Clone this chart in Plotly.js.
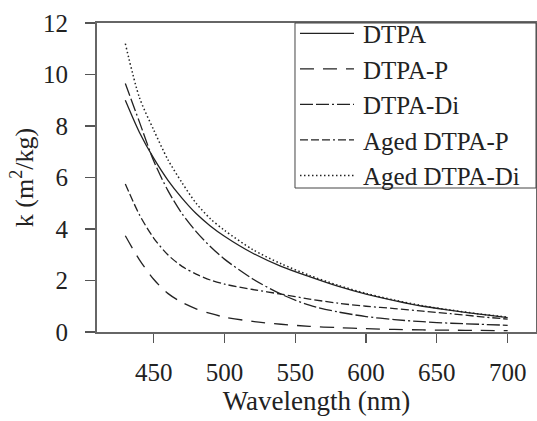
<!DOCTYPE html>
<html>
<head>
<meta charset="utf-8">
<script src="https://cdn.plot.ly/plotly-3.0.1.min.js"></script>
<style>html,body{margin:0;padding:0;background:#fff;}#chart{width:537px;height:421px;}</style>
</head>
<body>
<div id="chart"></div>
<script>
const wavelength = [430,440,450,460,470,480,490,500,520,540,560,580,600,620,640,660,680,700];
const dtpa       = [9.0,7.75,6.75,5.9,5.2,4.6,4.12,3.72,3.06,2.55,2.15,1.78,1.47,1.22,1.0,0.84,0.69,0.56];
const dtpaP      = [3.74,2.8,2.05,1.5,1.15,0.9,0.72,0.58,0.41,0.3,0.22,0.17,0.13,0.1,0.08,0.07,0.06,0.05];
const dtpaDi     = [9.65,8.15,6.65,5.5,4.6,3.9,3.32,2.83,2.06,1.47,1.04,0.78,0.6,0.48,0.4,0.34,0.3,0.26];
const agedDtpaP  = [5.75,4.55,3.65,3.0,2.55,2.25,2.02,1.86,1.65,1.47,1.28,1.12,1.0,0.91,0.81,0.71,0.6,0.5];
const agedDtpaDi = [11.2,9.1,7.85,6.7,5.8,5.0,4.4,3.95,3.2,2.65,2.2,1.82,1.5,1.24,1.02,0.85,0.7,0.58];
const seriesNames = ['DTPA','DTPA-P','DTPA-Di','Aged DTPA-P','Aged DTPA-Di'];
const xTicks = [450,500,550,600,650,700];
const yTicks = [0,2,4,6,8,10,12];

const seriesValues = [dtpa, dtpaP, dtpaDi, agedDtpaP, agedDtpaDi];
const dashes = ['solid','14px,9px','13px,3px,13px,3px,2px,3px','8px,3px,8px,3px,8px,3px,2px,3px','1.5px,2.5px'];
const widths = [1.3,1.3,1.3,1.3,1.5];

const traces = seriesValues.map((v,i)=>({
  x: wavelength, y: v, name: seriesNames[i], type:'scatter', mode:'lines',
  line:{color:'#222', width:widths[i], dash:dashes[i], shape:'spline', smoothing:0.8},
  hoverinfo:'skip'
}));

const serif = '"Liberation Serif", "Times New Roman", Times, serif';
const layout = {
  width:537, height:421,
  margin:{l:97, r:1, t:23, b:89},
  paper_bgcolor:'#fff', plot_bgcolor:'#fff',
  font:{family:serif, color:'#222', size:25},
  showlegend:true,
  legend:{x:0.451, y:1.04, xanchor:'left', yanchor:'top', borderwidth:0,
          bgcolor:'rgba(0,0,0,0)', font:{family:serif, size:25, color:'#222'}, tracegroupgap:0,
          itemwidth:58},
  shapes:[{type:'rect', xref:'paper', yref:'paper', x0:0.451, x1:1, y0:0.466, y1:1,
           line:{color:'#444', width:1}, fillcolor:'rgba(0,0,0,0)', layer:'above'}],
  xaxis:{range:[410,720], tickvals:xTicks, ticktext:xTicks.map(String), ticks:'outside', ticklen:9,
         tickwidth:1.2, tickcolor:'#555', showline:true, linecolor:'#666', linewidth:2, mirror:true,
         showgrid:false, zeroline:false, ticklabelstandoff:8,
         tickfont:{family:serif, size:25, color:'#222'},
         title:{text:'Wavelength (nm)', font:{family:serif, size:27, color:'#222'}, standoff:4}},
  yaxis:{range:[0,12], tickvals:yTicks, ticktext:yTicks.map(String), ticks:'outside', ticklen:10,
         tickwidth:1.2, tickcolor:'#555', showline:true, linecolor:'#666', linewidth:2, mirror:true,
         showgrid:false, zeroline:false, ticklabelstandoff:12,
         tickfont:{family:serif, size:25, color:'#222'},
         title:{text:'k (m<sup>2</sup>/kg)', font:{family:serif, size:26, color:'#222'}, standoff:2}}
};
Plotly.newPlot('chart', traces, layout, {staticPlot:true, displayModeBar:false}).then(gd=>{
  // lengthen legend sample lines to match the reference key
  gd.querySelectorAll('.legend .traces .legendlines path').forEach(p=>{
    p.setAttribute('d','M5,0h54');
  });
});
</script>
</body>
</html>
